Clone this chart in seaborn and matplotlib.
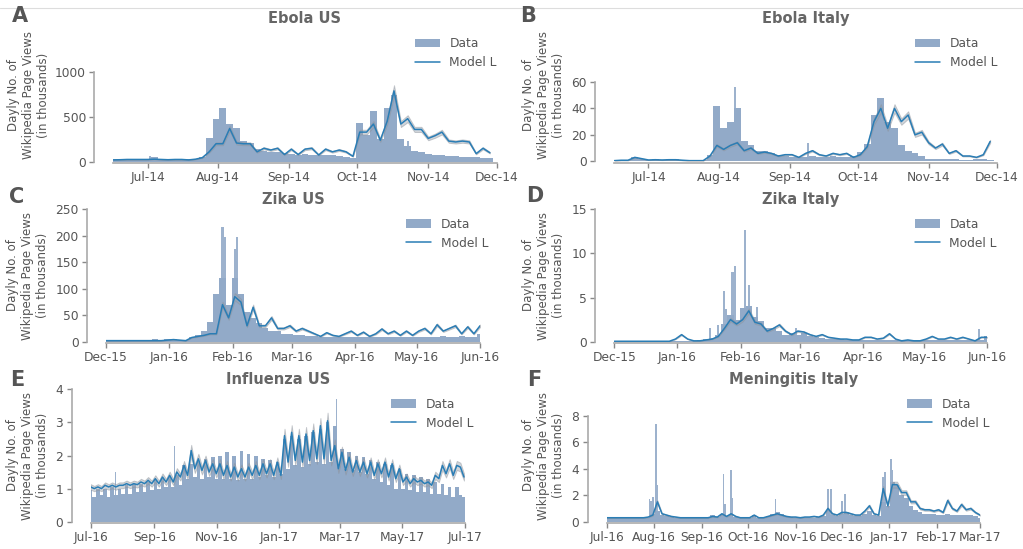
import numpy as np
import pandas as pd
import matplotlib
matplotlib.use('Agg')
import matplotlib.pyplot as plt
import matplotlib.dates as mdates
from matplotlib.lines import Line2D
import seaborn as sns

# ======================
# Data (thousands of daily page views)
# ======================
# Ebola US / Ebola Italy: every 3 days from 2014-06-16
ebola_start = '2014-06-16'
ebola_us_data = [25, 25, 30, 25, 30, 30, 50, 25, 25, 30, 30, 25, 35, 55, 260, 480, 600, 420,
                 380, 230, 210, 140, 120, 110, 110, 100, 90, 80, 85, 80, 70, 80, 70, 60, 55, 40,
                 430, 300, 560, 250, 600, 740, 250, 170, 120, 110, 85, 80, 70, 60, 60, 55, 55,
                 50, 45, 40]
ebola_us_model = [20, 22, 25, 25, 25, 25, 28, 25, 22, 25, 25, 20, 28, 45, 110, 200, 200, 370,
                  208, 200, 200, 110, 150, 130, 150, 80, 140, 80, 140, 150, 75, 140, 110, 130,
                  110, 60, 330, 330, 420, 240, 450, 790, 420, 480, 360, 360, 260, 290, 330, 230,
                  220, 230, 220, 90, 150, 100]
ebola_us_spike_dates = ['2014-07-02', '2014-10-23']
ebola_us_spike_vals = [60, 230]

ebola_it_data = [1, 1, 1, 3, 2, 1, 2, 1, 1.5, 1.5, 1, 0.5, 0.5, 1, 5, 42, 25, 30, 40, 15, 12,
                 8, 8, 6, 5, 4, 3, 3, 3, 4, 3, 3, 4, 3, 3, 4, 7, 13, 35, 48, 30, 25, 12, 8, 6,
                 4, 2, 1.5, 1.5, 1.5, 1.5, 1, 1, 1.5, 1.5, 1]
ebola_it_model = [0.5, 0.8, 0.8, 3, 2, 1, 1.2, 1, 1.2, 1.2, 0.8, 0.5, 0.5, 0.5, 4, 12, 9, 12,
                  14, 8, 10, 6, 7, 6, 4, 5, 5, 3, 6, 8, 5, 4, 6, 5, 6, 3, 5, 11, 30, 40, 25, 40,
                  30, 35, 20, 22, 14, 10, 13, 6, 8, 4, 4, 3, 5, 15]
ebola_it_spike_dates = ['2014-08-08', '2014-09-09']
ebola_it_spike_vals = [56, 14]

# Zika US / Zika Italy: every 3 days from 2015-12-01
zika_start = '2015-12-01'
zika_us_data = [3, 3, 3, 2, 2, 2, 2, 2, 5, 3, 5, 6, 4, 3, 8, 12, 20, 38, 90, 120, 70, 120,
                90, 57, 45, 35, 25, 20, 20, 15, 15, 12, 12, 10, 10, 9, 8, 9, 8, 8, 8, 8, 9, 8,
                8, 9, 8, 8, 9, 8, 8, 9, 9, 8, 9, 10, 9, 9, 10, 9, 9, 15]
zika_us_model = [2, 2, 2, 2, 2, 2, 2, 2, 2, 2, 3, 4, 3, 2, 8, 10, 12, 15, 15, 70, 45, 85, 75,
                 30, 65, 30, 30, 45, 25, 25, 30, 20, 25, 20, 15, 10, 17, 12, 10, 15, 20, 12, 18,
                 10, 15, 24, 15, 20, 12, 20, 12, 20, 25, 15, 32, 20, 25, 30, 15, 28, 15, 30]
zika_us_spike_dates = ['2016-01-27', '2016-01-28', '2016-02-02', '2016-02-03']
zika_us_spike_vals = [217, 197, 175, 197]

zika_it_data = [0.05] * 10 + [0.1, 0.1, 0.05, 0.1, 0.2, 0.3, 0.4, 0.8, 2.0, 3.0, 2.5, 3.8,
                4.0, 2.8, 2.3, 1.5, 1.5, 1.2, 0.8, 1.0, 0.8, 1.0, 0.7, 0.5, 0.4, 0.3, 0.3, 0.3,
                0.2, 0.2, 0.2, 0.15, 0.2, 0.15, 0.2, 0.2, 0.15, 0.15, 0.15, 0.15, 0.15, 0.2,
                0.2, 0.15, 0.15, 0.2, 0.15, 0.2, 0.15, 0.15, 0.2, 0.7]
zika_it_model = [0.05] * 10 + [0.3, 0.8, 0.3, 0.1, 0.1, 0.2, 0.3, 0.6, 1.5, 2.5, 2.0, 2.5,
                 3.5, 2.2, 2.0, 1.2, 1.5, 1.9, 1.2, 0.8, 1.2, 1.1, 0.8, 0.6, 0.8, 0.5, 0.4,
                 0.3, 0.3, 0.2, 0.2, 0.5, 0.5, 0.3, 0.4, 0.9, 0.3, 0.1, 0.2, 0.1, 0.1, 0.3,
                 0.6, 0.3, 0.3, 0.5, 0.3, 0.5, 0.3, 0.1, 0.5, 0.5]
zika_it_spike_dates = ['2016-01-17', '2016-01-21', '2016-01-24', '2016-01-25', '2016-01-28',
                       '2016-01-29', '2016-02-03', '2016-02-05', '2016-02-09', '2016-02-28',
                       '2016-05-28']
zika_it_spike_vals = [1.6, 1.9, 5.8, 3.7, 7.9, 8.6, 12.6, 6.4, 3.9, 1.6, 1.4]

# Influenza US: twice a week (3.5 days) from 2016-07-01
flu_start = '2016-07-01'
flu_us_data = [0.95, 0.75, 1.0, 0.8, 1.0, 0.75, 1.05, 0.8, 1.0,
               0.85, 1.1, 0.85, 1.15, 0.9, 1.15, 0.9, 1.2, 0.95,
               1.25, 1.0, 1.3, 1.05, 1.35, 1.05, 1.4, 1.1,
               1.7, 1.3, 1.75, 1.35, 1.8, 1.3, 1.9, 1.35, 1.95,
               1.3, 2.0, 1.3, 2.1, 1.3, 2.0, 1.25, 2.15, 1.3,
               2.05, 1.3, 2.0, 1.35, 1.9, 1.4, 1.85, 1.35, 1.8,
               1.45, 2.5, 1.6, 2.6, 1.7, 2.5, 1.65, 2.6,
               1.75, 2.7, 1.8, 2.8, 1.75, 3.0, 1.8, 2.9,
               1.7, 2.2, 1.6, 2.1, 1.55, 2.0, 1.5, 1.95, 1.45,
               1.85, 1.3, 1.8, 1.2, 1.75, 1.1, 1.7, 1.0, 1.6,
               1.0, 1.45, 0.95, 1.4, 0.9, 1.35, 0.9, 1.3, 0.85,
               1.2, 0.85, 1.15, 0.8, 1.05, 0.75, 1.05, 0.8, 0.75]
flu_us_model = [1.05, 1.0, 1.05, 1.0, 1.1, 1.05, 1.1, 1.05, 1.1,
                1.1, 1.15, 1.1, 1.15, 1.12, 1.2, 1.15, 1.25, 1.15,
                1.3, 1.15, 1.35, 1.2, 1.4, 1.2, 1.5, 1.35,
                1.7, 1.4, 2.15, 1.6, 1.9, 1.55, 1.85, 1.5, 1.75,
                1.45, 1.75, 1.4, 1.7, 1.35, 1.65, 1.35, 1.6, 1.35,
                1.65, 1.4, 1.7, 1.4, 1.75, 1.45, 1.75, 1.4, 1.8,
                1.4, 2.6, 1.8, 2.7, 1.85, 2.6, 1.8, 2.65,
                1.85, 2.75, 1.9, 2.9, 1.9, 3.05, 1.85, 2.3,
                1.6, 2.1, 1.55, 1.95, 1.5, 1.85, 1.5, 1.8, 1.45,
                1.8, 1.4, 1.75, 1.45, 1.8, 1.35, 1.75, 1.3, 1.6,
                1.2, 1.35, 1.15, 1.3, 1.2, 1.25, 1.15, 1.2, 1.1,
                1.4, 1.3, 1.7, 1.45, 1.75, 1.4, 1.7, 1.65, 1.35]
flu_us_spike_dates = ['2016-07-25', '2016-09-21', '2017-02-26']
flu_us_spike_vals = [1.5, 2.3, 3.72]

# Meningitis Italy: every 3 days from 2016-07-01
men_start = '2016-07-01'
men_it_data = [0.25] * 10 + [0.6, 0.8, 0.5, 0.45, 0.35, 0.3, 0.25, 0.25, 0.25, 0.25, 0.25,
               0.25, 0.3, 0.5, 0.35, 0.6, 0.4, 0.5, 0.35, 0.3, 0.3, 0.3, 0.5, 0.3, 0.3, 0.45,
               0.55, 0.7, 0.6, 0.4, 0.35, 0.3, 0.3, 0.3, 0.3, 0.3, 0.35, 0.4, 0.8, 0.5, 0.4,
               0.6, 0.7, 0.5, 0.4, 0.4, 0.6, 0.8, 0.5, 0.4, 1.5, 1.2, 3.0, 2.8, 2.0, 1.8, 1.2,
               0.9, 0.7, 0.6, 0.6, 0.55, 0.5, 0.5, 0.6, 0.5, 0.5, 0.5, 0.5, 0.5, 0.4, 0.3]
men_it_model = [0.3] * 9 + [0.35, 0.5, 1.5, 0.6, 0.5, 0.4, 0.35, 0.3, 0.3, 0.3, 0.3, 0.3,
                0.3, 0.3, 0.4, 0.35, 0.6, 0.4, 0.6, 0.4, 0.3, 0.3, 0.3, 0.5, 0.3, 0.3, 0.4,
                0.5, 0.6, 0.5, 0.4, 0.35, 0.35, 0.3, 0.35, 0.35, 0.4, 0.35, 0.5, 1.0, 0.6, 0.5,
                0.7, 0.7, 0.6, 0.5, 0.5, 0.8, 1.2, 0.6, 0.5, 2.5, 1.2, 2.8, 2.8, 2.2, 2.2, 1.5,
                1.5, 1.0, 0.9, 0.9, 0.8, 0.9, 0.7, 1.6, 1.0, 0.8, 1.3, 0.9, 1.0, 0.7, 0.5]
men_it_spike_dates = ['2016-07-29', '2016-07-30', '2016-07-31', '2016-08-02', '2016-08-03',
                      '2016-09-15', '2016-09-16', '2016-09-20', '2016-09-21', '2016-10-19',
                      '2016-11-22', '2016-11-24', '2016-12-01', '2016-12-03', '2016-12-28',
                      '2016-12-29', '2017-01-02', '2017-01-03']
men_it_spike_vals = [1.75, 1.6, 1.9, 7.4, 2.75, 3.6, 1.3, 3.9, 1.8, 1.75, 2.5, 2.5, 1.6, 2.1,
                     3.4, 3.75, 4.7, 3.9]

titles = ['Ebola US', 'Ebola Italy', 'Zika US', 'Zika Italy', 'Influenza US', 'Meningitis Italy']
letters = ['A', 'B', 'C', 'D', 'E', 'F']

# ======================
# Style
# ======================
sns.set_theme(style='ticks')
plt.rcParams['font.family'] = ['DejaVu Sans']
TXT = '#555555'
BAR = '#92aac8'
LINE = '#2a7db5'
BAND_FRAC = 0.08
plt.rcParams.update({
    'text.color': TXT, 'axes.labelcolor': TXT,
    'xtick.color': '#888888', 'ytick.color': '#888888',
    'xtick.labelcolor': TXT, 'ytick.labelcolor': TXT,
    'axes.edgecolor': '#aaaaaa', 'axes.linewidth': 1.2,
    'xtick.major.width': 1.0, 'ytick.major.width': 1.0,
    'xtick.major.size': 3.5, 'ytick.major.size': 3.5,
    'xtick.major.pad': 2.5, 'ytick.major.pad': 2.5,
})

W, H = 1023, 549
fig = plt.figure(figsize=(W / 100, H / 100), dpi=100)

panels = [
    dict(start=ebola_start, step=3, data=ebola_us_data, model=ebola_us_model,
         sd=ebola_us_spike_dates, sv=ebola_us_spike_vals,
         xlim=('2014-06-16', '2014-12-01'), ylim=1480, yticks=[0, 500, 1000],
         box=(113.3, 496.7, 29, 161.7), lab=50, leg=0, months=None),
    dict(start=ebola_start, step=3, data=ebola_it_data, model=ebola_it_model,
         sd=ebola_it_spike_dates, sv=ebola_it_spike_vals,
         xlim=('2014-06-16', '2014-12-01'), ylim=100, yticks=[0, 20, 40, 60],
         box=(614.3, 997, 29, 161.3), lab=565, leg=0, months=None),
    dict(start=zika_start, step=3, data=zika_us_data, model=zika_us_model,
         sd=zika_us_spike_dates, sv=zika_us_spike_vals,
         xlim=('2015-12-01', '2016-06-01'), ylim=250, yticks=[0, 50, 100, 150, 200, 250],
         box=(106, 480, 209.3, 341.7), lab=49.3, leg=8, months=None),
    dict(start=zika_start, step=3, data=zika_it_data, model=zika_it_model,
         sd=zika_it_spike_dates, sv=zika_it_spike_vals,
         xlim=('2015-12-01', '2016-06-01'), ylim=15, yticks=[0, 5, 10, 15],
         box=(614.3, 987.3, 209.3, 341.7), lab=565, leg=9.4, months=None),
    dict(start=flu_start, step=3.5, data=flu_us_data, model=flu_us_model,
         sd=flu_us_spike_dates, sv=flu_us_spike_vals,
         xlim=('2016-07-01', '2017-07-01'), ylim=4, yticks=[0, 1, 2, 3, 4],
         box=(90.7, 465, 389.3, 521.7), lab=49.3, leg=8, months=[1, 3, 5, 7, 9, 11]),
    dict(start=men_start, step=3, data=men_it_data, model=men_it_model,
         sd=men_it_spike_dates, sv=men_it_spike_vals,
         xlim=('2016-07-01', '2017-03-01'), ylim=10, yticks=[0, 2, 4, 6, 8],
         box=(606.7, 980, 389.3, 521.7), lab=565, leg=9, months=None),
]

for p, title, letter in zip(panels, titles, letters):
    l, r, t, b = p['box']
    ax = fig.add_axes([l / W, 1 - b / H, (r - l) / W, (b - t) / H])

    n = len(p['data'])
    dates = pd.Timestamp(p['start']) + pd.to_timedelta(np.arange(n) * p['step'], unit='D')
    data = np.array(p['data'], dtype=float)
    model = np.array(p['model'], dtype=float)

    bars = ax.bar(dates, data, width=p['step'], color=BAR, linewidth=0, zorder=1)
    ax.bar(pd.to_datetime(p['sd']), p['sv'], width=1.0, color=BAR, alpha=0.9,
           linewidth=0, zorder=1)
    ax.fill_between(dates, model * (1 - BAND_FRAC), model * (1 + BAND_FRAC),
                    color='#9aa3ad', alpha=0.45, linewidth=0.7, edgecolor='#8a9099', zorder=2)
    sns.lineplot(x=dates, y=model, ax=ax, color=LINE, lw=1.1, legend=False, zorder=3)
    line = ax.lines[-1]

    ax.set_xlim(pd.Timestamp(p['xlim'][0]), pd.Timestamp(p['xlim'][1]))
    ax.set_ylim(0, p['ylim'])
    ax.set_yticks(p['yticks'])
    if p['months']:
        ax.xaxis.set_major_locator(mdates.MonthLocator(bymonth=p['months']))
    else:
        ax.xaxis.set_major_locator(mdates.MonthLocator())
    ax.xaxis.set_major_formatter(mdates.DateFormatter('%b-%y'))
    ax.tick_params(labelsize=8.8)
    ax.set_xlabel('')

    sns.despine(ax=ax)
    ax.spines['left'].set_position(('outward', 13.7))
    ax.spines['bottom'].set_position(('outward', 1.0))
    ax.spines['left'].set_bounds(0, p['yticks'][-1])

    ax.set_ylabel('Dayly No. of\nWikipedia Page Views\n(in thousands)', fontsize=8.5)
    ax.yaxis.set_label_coords((p['lab'] - l) / (r - l), 0.5)
    ax.set_title(title, fontsize=10.5, fontweight='bold', color='#666666', pad=4)

    ax.legend([bars, line], ['Data', 'Model L'], loc='upper right', frameon=False,
              fontsize=8.8, borderaxespad=0, handlelength=2.0,
              bbox_to_anchor=((r + p['leg'] + 5) / W, 1 - (t + 3.4) / H),
              bbox_transform=fig.transFigure)

# panel letters
letter_pos = [(19.5, 15.5), (528.5, 15.5), (16.5, 196.5), (534.5, 195.5), (17.5, 379.5), (534, 379.5)]
for letter, (x, y) in zip(letters, letter_pos):
    fig.text(x / W, 1 - y / H, letter, fontsize=15, fontweight='bold', color='#555555',
             ha='center', va='center')

# thin rule along the top
fig.add_artist(Line2D([0, 1], [1 - 7.5 / H, 1 - 7.5 / H], color='#dddddd', lw=0.8))

fig.savefig('out.png', dpi=100)
